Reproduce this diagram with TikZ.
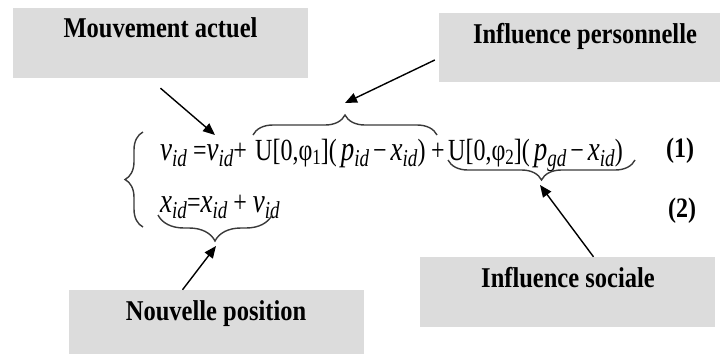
\documentclass[tikz,border=0pt]{standalone}
\usepackage{fontspec}
\setmainfont{Liberation Serif}
\usepackage{graphicx}
\usetikzlibrary{decorations.pathreplacing,arrows.meta}
\definecolor{boxgray}{HTML}{DCDCDC}
\definecolor{bracegray}{HTML}{3A3A3A}
\newcommand\vs[1]{\scalebox{1}[1.17]{#1}}
\newcommand\ve[1]{\scalebox{1}[1.28]{#1}}
\newcommand\iv[1]{{\fontsize{27}{27}\selectfont\textit{#1}}}
\newcommand\sbi[1]{\raisebox{-0.22em}{\fontsize{19}{19}\selectfont\textit{#1}}}
\newcommand\sbn[1]{\raisebox{-0.15em}{\fontsize{17}{17}\selectfont #1}}
\tikzset{
  boxst/.style={fill=boxgray, draw=none, inner sep=0pt},
  lbltxt/.style={anchor=base, inner sep=0pt, font=\fontsize{24.5}{28}\selectfont\bfseries},
  eqtxt/.style={anchor=base west, inner sep=0pt, font=\fontsize{24}{28}\selectfont},
  numtxt/.style={anchor=base west, inner sep=0pt, font=\fontsize{24}{28}\selectfont\bfseries},
  bracest/.style={draw=bracegray, line width=1.4pt, decorate},
  arr/.style={draw=black, line width=1.4pt, -{Triangle[length=12pt,width=10pt]}},
}
\begin{document}
\begin{tikzpicture}[x=1pt,y=-1pt]
\useasboundingbox (0,0) rectangle (720,354);
% boxes
\node[boxst, minimum width=295pt, minimum height=70pt] (ma) at (160.5,43) {};
\node[lbltxt] (maT) at (160.5,37) {\vs{Mouvement actuel}};
\node[boxst, minimum width=281pt, minimum height=69pt] (ip) at (579.5,47.5) {};
\node[lbltxt] (ipT) at (585,43) {\vs{Influence personnelle}};
\node[boxst, minimum width=295pt, minimum height=70pt] (is) at (567.5,292) {};
\node[lbltxt] (isT) at (568,287) {\vs{Influence sociale}};
\node[boxst, minimum width=295pt, minimum height=64pt] (np) at (216.5,322) {};
\node[lbltxt] (npT) at (216,320) {\vs{Nouvelle position}};
% equations
\node[eqtxt] (eqA) at (160,160) {\ve{\iv{v}\sbi{id} =\iv{v}\sbi{id}+ }};
\node[eqtxt] (eqB) at (255,160) {\ve{U[0,φ\sbn{1}](\,\iv{p}\sbi{id}\,−\,\iv{x}\sbi{id})}};
\node[eqtxt] (eqP) at (431,160) {\ve{+}};
\node[eqtxt] (eqC) at (448,160) {\ve{U[0,φ\sbn{2}](\,\iv{p}\sbi{gd}\,−\,\iv{x}\sbi{id})}};
\node[numtxt] (n1) at (666,157) {\vs{(1)}};
\node[eqtxt] (eqD) at (160,212) {\ve{\iv{x}\sbi{id}=\iv{x}\sbi{id} + \iv{v}\sbi{id}}};
\node[numtxt] (n2) at (668,217) {\vs{(2)}};
% braces
\draw[bracest, decoration={brace, amplitude=18pt}] (143,227) -- (143,132);
\draw[bracest, decoration={brace, amplitude=20pt}] (253,135) -- (437,135);
\draw[bracest, decoration={brace, amplitude=20pt, mirror}] (448,160) -- (635,160);
\draw[bracest, decoration={brace, amplitude=26pt, mirror}] (158,215) -- (272,215);
% arrow targets
\coordinate (tA) at (215,135);
\coordinate (tB) at (345,103);
\coordinate (tC) at (540,185);
\coordinate (tD) at (216,246);
% arrows
\draw[arr] ([yshift=-10pt]ma.south) -- (tA);
\draw[arr] ([xshift=-4pt,yshift=-12.5pt]ip.west) -- (tB);
\draw[arr] ([xshift=26pt]is.north) -- (tC);
\draw[arr] ([xshift=-34pt]np.north) -- (tD);
\end{tikzpicture}
\end{document}
